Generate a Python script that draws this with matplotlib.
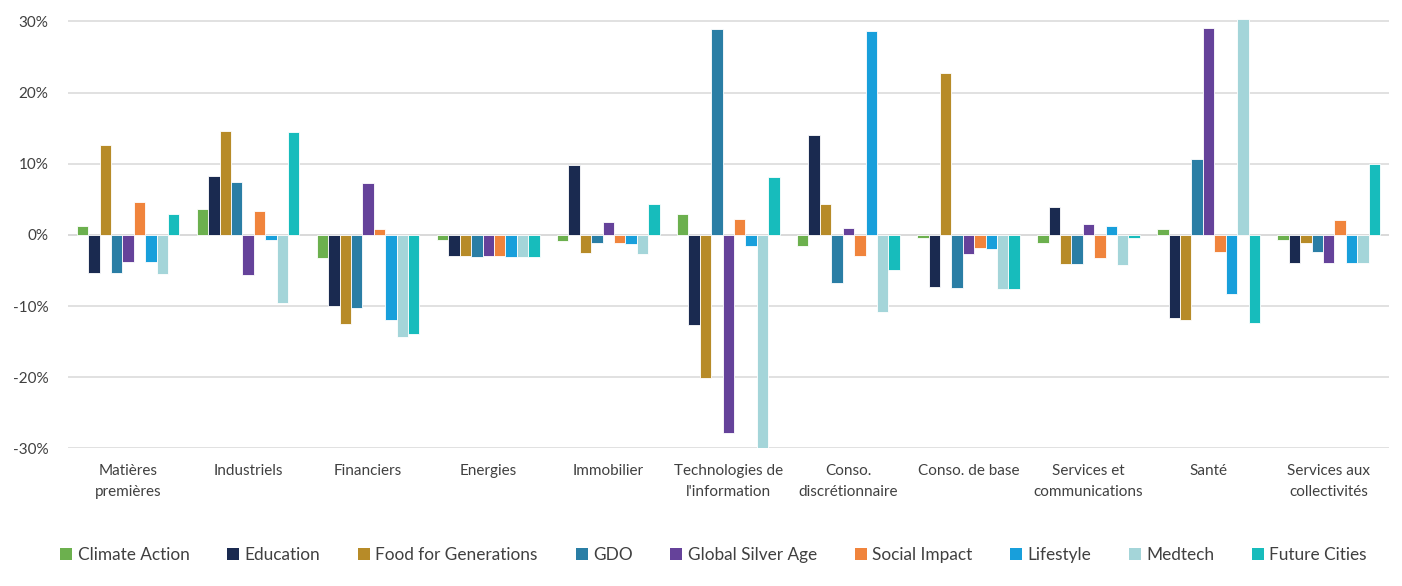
import matplotlib
matplotlib.use("Agg")
import matplotlib.pyplot as plt
import numpy as np
from matplotlib.patches import Patch

plt.rcParams['font.family'] = ['Lato', 'DejaVu Sans']

categories = ["Matières\npremières", "Industriels", "Financiers", "Energies", "Immobilier",
              "Technologies de\nl'information", "Conso.\ndiscrétionnaire", "Conso. de base",
              "Services et\ncommunications", "Santé", "Services aux\ncollectivités"]

series_names = ["Climate Action", "Education", "Food for Generations", "GDO",
                "Global Silver Age", "Social Impact", "Lifestyle", "Medtech", "Future Cities"]

climate_action = [1.3, 3.6, -3.3, -0.7, -0.9, 2.9, -1.6, -0.5, -1.2, 0.8, -0.7]
education = [-5.4, 8.3, -10.0, -3.0, 9.8, -12.6, 14.1, -7.3, 3.9, -11.7, -3.9]
food_for_generations = [12.6, 14.6, -12.5, -3.0, -2.5, -20.1, 4.4, 22.7, -4.1, -12.0, -1.1]
gdo = [-5.4, 7.5, -10.3, -3.1, -1.2, 29.0, -6.7, -7.5, -4.1, 10.7, -2.4]
global_silver_age = [-3.8, -5.6, 7.3, -3.0, 1.8, -27.9, 1.0, -2.7, 1.5, 29.1, -3.9]
social_impact = [4.6, 3.4, 0.8, -3.0, -1.2, 2.2, -2.9, -1.8, -3.2, -2.4, 2.1]
lifestyle = [-3.8, -0.7, -12.0, -3.1, -1.3, -1.6, 28.7, -2.0, 1.3, -8.3, -4.0]
medtech = [-5.5, -9.6, -14.4, -3.1, -2.7, -30.0, -10.9, -7.6, -4.3, 30.3, -4.0]
future_cities = [3.0, 14.4, -13.9, -3.1, 4.3, 8.2, -4.9, -7.6, -0.4, -12.4, 9.9]

series_values = [climate_action, education, food_for_generations, gdo, global_silver_age,
                 social_impact, lifestyle, medtech, future_cities]

colors = ["#6CB04E", "#1A2A50", "#B78B28", "#2A7EA5", "#65429A",
          "#F0843C", "#189FDB", "#A4D5D9", "#17BCBC"]

y_ticks = [-30, -20, -10, 0, 10, 20, 30]

fig = plt.figure(figsize=(14.02, 5.86), dpi=100)
ax = fig.add_axes([0.0485, 0.235, 0.942, 0.732])

x = np.arange(len(categories))
n = len(series_names)
pitch = 0.095
for i, (vals, col) in enumerate(zip(series_values, colors)):
    offs = (i - (n - 1) / 2) * pitch
    ax.bar(x + offs, vals, width=pitch, color=col, edgecolor="white",
           linewidth=0.6, zorder=3)

ax.set_xlim(-0.5, len(categories) - 0.5)
ax.set_ylim(-30, 30.3)
ax.set_yticks(y_ticks)
ax.set_yticklabels([f"{t}%" for t in y_ticks])
ax.set_xticks(x)
ax.set_xticklabels(categories, linespacing=1.7)
ax.grid(axis="y", color="#D9D9D9", linewidth=1.1, zorder=0)
ax.axhline(0, color="#D9D9D9", linewidth=1.1, zorder=1)
for s in ax.spines.values():
    s.set_visible(False)
ax.tick_params(axis="both", length=0, labelsize=11, colors="#404040")
ax.tick_params(axis="x", pad=11)
ax.tick_params(axis="y", pad=14)

handles = [Patch(facecolor=c, edgecolor="none") for c in colors]
fig.legend(handles, series_names, loc="center", bbox_to_anchor=(0.509, 0.053),
           ncol=n, frameon=False, fontsize=12.4, handlelength=0.7,
           handleheight=0.7, handletextpad=0.3, columnspacing=2.2,
           labelcolor="#404040")

fig.savefig("out.png", dpi=100, facecolor="white")
